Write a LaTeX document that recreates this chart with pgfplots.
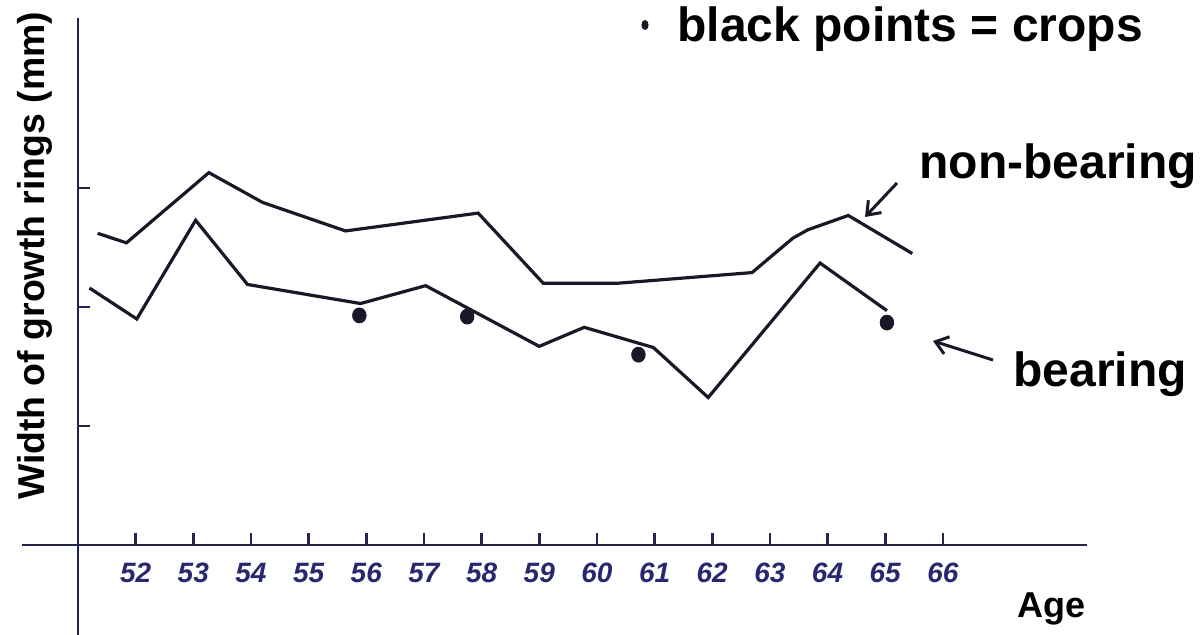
\documentclass[border=0pt]{standalone}
\usepackage{pgfplots}
\pgfplotsset{compat=1.18}
\usetikzlibrary{arrows.meta}
\usepackage{fontspec}
\setmainfont{Liberation Sans}
\definecolor{ink}{RGB}{24,24,40}
\definecolor{axisink}{RGB}{36,36,80}
\definecolor{blueink}{RGB}{40,40,110}
\begin{document}
\begin{tikzpicture}
\useasboundingbox (-39pt,0pt) rectangle (561pt,317.5pt);
\begin{axis}[
  at={(0pt,0pt)}, anchor=south west,
  scale only axis, width=504.5pt, height=308.5pt,
  xmin=51, xmax=68.5, ymin=-0.756, ymax=4.43,
  axis x line=middle, axis y line=left,
  axis line style={-, line width=1.4pt, color=axisink},
  tick align=inside, major tick length=6pt,
  tick style={line width=1.3pt, color=axisink},
  xtick={52,53,54,55,56,57,58,59,60,61,62,63,64,65,66},
  xticklabels={52,53,54,55,56,57,58,59,60,61,62,63,64,65,66},
  ytick={1,2,3}, yticklabels={},
  xticklabel style={anchor=center, yshift=-14pt, font=\fontsize{14}{16}\selectfont\bfseries\itshape, text=blueink},
  clip=false,
]
\addplot[ink, line width=1.6pt] coordinates {
(51.34,2.62) (51.84,2.54) (53.27,3.13) (54.20,2.88) (55.64,2.64) (57.94,2.79) (59.07,2.20) (60.35,2.20) (62.69,2.29) (63.40,2.58) (63.66,2.65) (64.36,2.77) (65.47,2.45)};
\addplot[ink, line width=1.6pt] coordinates {
(51.20,2.16) (52.02,1.90) (53.04,2.73) (53.94,2.19) (55.90,2.03) (57.03,2.18) (59.00,1.67) (59.78,1.83) (60.98,1.66) (61.93,1.24) (63.87,2.37) (65.03,1.97)};
\addplot[only marks, mark=*, mark size=3.4pt, mark options={fill=ink, draw=ink, yscale=1.1}] coordinates {
(55.88,1.93) (57.75,1.92) (60.72,1.60) (65.03,1.87)};
\end{axis}
% x-axis overshoot to the left of the y axis
\draw[line width=1.4pt, axisink] (-28pt,45pt) -- (0pt,45pt);
% annotations
\fill[ink] (283.5pt,305pt) ellipse (1.8pt and 2.5pt);
\node[anchor=base west, inner sep=0pt, font=\fontsize{24}{28}\selectfont\bfseries] at (299.5pt,296.5pt) {black points = crops};
\node[anchor=base west, inner sep=0pt, font=\fontsize{24}{28}\selectfont\bfseries] at (420.5pt,228pt) {non-bearing};
\node[anchor=base west, inner sep=0pt, font=\fontsize{24}{28}\selectfont\bfseries] at (467.5pt,124pt) {bearing};
\node[anchor=base west, inner sep=0pt, font=\fontsize{18}{22}\selectfont\bfseries] at (469.5pt,8.5pt) {Age};
\node[anchor=base, rotate=90, inner sep=0pt, font=\fontsize{18.7}{22}\selectfont\bfseries] at (-17pt,189.5pt) {Width of growth rings (mm)};
\draw[ink, line width=1.5pt, -{Straight Barb[length=6pt, width=9pt]}] (409.5pt,226pt) -- (393.5pt,209pt);
\draw[ink, line width=1.5pt, -{Straight Barb[length=6pt, width=9pt]}] (457.5pt,137.5pt) -- (427.5pt,147pt);
\end{tikzpicture}
\end{document}
